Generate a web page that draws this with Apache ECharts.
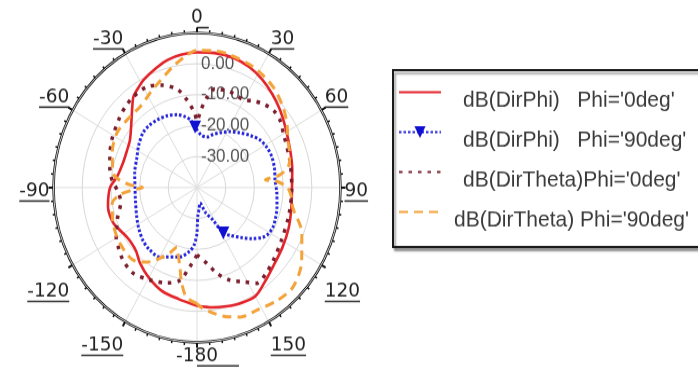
<!DOCTYPE html>
<html>
<head>
<meta charset="utf-8">
<script src="https://cdn.jsdelivr.net/npm/echarts@6/dist/echarts.min.js"></script>
<style>
  html, body { margin: 0; padding: 0; background: #fff; overflow: hidden; }
  #wrap { width: 698px; height: 385px; overflow: hidden; }
  /* the polar pattern is drawn a little taller than wide */
  #chart { width: 698px; height: 357px; transform: scaleY(1.0784); transform-origin: 0 0; }
</style>
</head>
<body>
<div id="wrap"><div id="chart"></div></div>
<script>
// Far-field directivity cuts, theta in degrees, values in dB
const seriesNames = [
  "dB(DirPhi)   Phi='0deg'",
  "dB(DirPhi)   Phi='90deg'",
  "dB(DirTheta)Phi='0deg'",
  "dB(DirTheta) Phi='90deg'"
];

const phi0Angles = [-180,-170,-160,-150,-141,-134,-128,-123,-117,-111,-101,-90,-83,-73,-65,-57,-50,-45,-40,-37,-32,-28,-20,-14,-7,0,8,17,25,33,41,49,58,70,80,90,101,112,123,134,142,150,158,165,172,180];
const dirPhi0 = [-1.8,-3.4,-4.4,-6.4,-8.5,-10.5,-11.0,-10.8,-9.8,-8.6,-8.4,-9.7,-11.9,-13.0,-12.9,-12.1,-10.0,-7.8,-5.0,-3.2,-1.7,-0.5,1.2,2.5,3.3,3.7,3.9,3.8,3.0,1.7,0.0,-1.7,-3.6,-5.4,-6.3,-6.9,-6.5,-5.5,-4.5,-3.2,-1.5,0.6,0.3,-0.3,-0.9,-1.8];

const phi90Angles = [-180,-177,-173,-165,-150,-140,-132,-123,-114,-100,-90,-78,-65,-56,-47,-40,-32,-24,-16,-10,-6,-2,5,12,18,24,32,40,48,55,62,69,77,85,94,103,110,116,121,125,131,137,143,148,152,160,168,174,178,180];
const dirPhi90 = [-25.0,-21.5,-19.3,-16.8,-14.1,-14.0,-14.6,-15.8,-17.0,-18.2,-18.4,-17.8,-16.9,-15.5,-14.2,-13.9,-14.1,-14.6,-15.5,-16.8,-18.0,-20.4,-23.0,-23.3,-22.0,-20.6,-18.7,-16.9,-14.9,-13.2,-12.4,-12.1,-12.3,-12.7,-12.1,-11.4,-10.9,-10.6,-11.0,-12.0,-14.8,-18.0,-20.6,-22.7,-28.0,-31.5,-34.9,-33.0,-31.0,-25.0];
const phi90MarkerAngles = [-2, 148];

const theta0Angles = [-180,-176,-173,-169,-161,-151,-141,-132,-125,-120,-110,-100,-93,-86,-80,-74,-63,-50,-43,-37,-28,-20,-12,-7,-2,0,3,7,11,20,30,35,41,47,53,60,75,90,105,120,131,139,146,152,159,166,172,180];
const dirTheta0 = [-18.2,-15.5,-13.1,-9.5,-7.4,-5.9,-4.5,-5.2,-6.5,-7.5,-10.5,-13.0,-12.5,-10.5,-9.2,-8.4,-6.6,-4.8,-3.8,-3.2,-3.1,-4.8,-7.7,-11.5,-15.9,-18.5,-15.0,-10.5,-7.6,-7.0,-7.3,-5.8,-4.4,-3.5,-3.8,-5.2,-6.5,-7.0,-6.8,-6.0,-4.6,-3.3,-2.7,-5.5,-7.9,-11.5,-15.3,-18.2];

const theta90Angles = [-180,-174,-170,-167,-163,-160,-156,-152,-144,-136,-124,-111,-100,-95,-92,-90,-88,-85,-81,-69,-58,-46,-37,-28,-22,-12,-5,0,8,15,27,39,49,57,64,72,78,82,84,86,90,95,101,112,123,134,143,152,160,166,172,178,180];
const dirTheta90 = [-2.5,-4.4,-9.0,-13.6,-17.5,-19.5,-17.0,-14.6,-10.2,-7.6,-7.7,-8.6,-10.0,-13.0,-17.5,-21.0,-17.0,-13.0,-10.4,-8.4,-7.0,-7.3,-7.2,-5.3,-3.7,0.0,2.8,4.3,4.6,4.4,3.6,2.0,-0.3,-2.6,-4.8,-6.0,-7.5,-11.0,-16.0,-12.0,-8.5,-7.0,-6.0,-0.6,3.5,6.4,5.9,4.8,4.5,3.0,1.0,-1.3,-2.5];

// radial scale (dB) and labelled rings
const radiusMin = -40, radiusMax = 10, radiusStep = 10;
const radiusLabelValues = [-30, -20, -10, 0];
const angleStep = 30;

// theta runs -180..180; the angle axis runs 0..360 clockwise from the top
const toAxisAngle = a => (a < 0 ? a + 360 : a);
const toPairs = (angles, values) => angles.map((a, i) => [values[i], toAxisAngle(a)]);

const phi90Data = phi90Angles.map((a, i) => {
  const marked = phi90MarkerAngles.indexOf(a) >= 0;
  return { value: [dirPhi90[i], toAxisAngle(a)], symbol: marked ? 'triangle' : 'none' };
});

// extra room above some angle labels so they sit a little further out
const labelSpacer = { '90': 's8', '-90': 's8', '120': 's14', '-120': 's14', '150': 's10', '-150': 's10' };

const chart = echarts.init(document.getElementById('chart'), null, { renderer: 'canvas' });

const labelFont = "'Liberation Sans', Arial, sans-serif";
const tickFont = "'DejaVu Sans', 'Liberation Sans', sans-serif";

chart.setOption({
  animation: false,
  backgroundColor: '#ffffff',
  polar: { center: [197, 173.9], radius: 143.5 },
  angleAxis: {
    type: 'value',
    min: 0,
    max: 360,
    interval: angleStep,
    startAngle: 90,
    clockwise: true,
    axisLine: { show: true, lineStyle: { color: '#111', width: 2.5 } },
    axisTick: { show: true, length: 5, lineStyle: { color: '#111', width: 2 } },
    minorTick: { show: true, splitNumber: 6, length: 3, lineStyle: { color: '#111', width: 1.5 } },
    splitLine: { show: true, lineStyle: { color: '#dedede', width: 1 } },
    axisLabel: {
      margin: 4,
      formatter: v => {
        if (v >= 360) return '';
        const t = String(v >= 180 ? v - 360 : v);
        const sp = labelSpacer[t];
        return (sp ? '{' + sp + '|}\n' : '') + '{n|' + t + '}\n{u|}';
      },
      rich: {
        n: { fontFamily: tickFont, fontSize: 18.5, color: '#222', lineHeight: 17, align: 'center' },
        u: { width: '100%', height: 1.6, backgroundColor: '#333' },
        s8: { height: 8, lineHeight: 8, fontSize: 1 },
        s10: { height: 10, lineHeight: 10, fontSize: 1 },
        s14: { height: 14, lineHeight: 14, fontSize: 1 }
      }
    }
  },
  radiusAxis: {
    type: 'value',
    min: radiusMin,
    max: radiusMax,
    interval: radiusStep,
    axisLine: { show: false },
    axisTick: { show: false },
    splitLine: { show: true, lineStyle: { color: '#d8d8d8', width: 1 } },
    axisLabel: {
      margin: -4,
      align: 'left',
      verticalAlign: 'middle',
      padding: [0, 0, 8, 0],
      fontFamily: labelFont,
      fontSize: 17,
      color: '#555',
      formatter: v => (radiusLabelValues.indexOf(v) >= 0 ? v.toFixed(2) : '')
    },
    z: 1
  },
  legend: {
    orient: 'vertical',
    left: 393,
    top: 65,
    padding: [2, 40, 14, 5],
    itemWidth: 42,
    itemHeight: 14,
    itemGap: 0,
    backgroundColor: '#fff',
    borderColor: '#1a1a1a',
    borderWidth: 2,
    shadowColor: 'rgba(0,0,0,0.35)',
    shadowBlur: 2,
    shadowOffsetX: 2,
    shadowOffsetY: 3,
    data: [
      { name: seriesNames[0], itemStyle: { opacity: 0 } },
      { name: seriesNames[1] },
      { name: seriesNames[2], itemStyle: { opacity: 0 } },
      { name: seriesNames[3], itemStyle: { opacity: 0 } }
    ],
    formatter: name => (name === seriesNames[3] ? '{w|' + name + '}' : '{t|' + name + '}'),
    textStyle: {
      rich: {
        t: { fontFamily: labelFont, fontSize: 21, color: '#3a3a3a', lineHeight: 22, padding: [16, 0, 0, 17] },
        w: { fontFamily: labelFont, fontSize: 21, color: '#3a3a3a', lineHeight: 22, padding: [16, 0, 0, 8] }
      }
    }
  },
  series: [
    {
      name: seriesNames[0], type: 'line', coordinateSystem: 'polar',
      data: toPairs(phi0Angles, dirPhi0),
      symbol: 'none', smooth: 0.3,
      lineStyle: { color: '#e3242b', width: 2.6 },
      itemStyle: { color: '#e3242b' }
    },
    {
      name: seriesNames[1], type: 'line', coordinateSystem: 'polar',
      data: phi90Data,
      symbol: 'triangle', symbolSize: 12, symbolRotate: 180, showSymbol: true, showAllSymbol: true,
      smooth: 0.3,
      lineStyle: { color: '#2424dc', width: 3, type: [2.5, 2] },
      itemStyle: { color: '#1010d0' }
    },
    {
      name: seriesNames[2], type: 'line', coordinateSystem: 'polar',
      data: toPairs(theta0Angles, dirTheta0),
      symbol: 'none', smooth: 0.3,
      lineStyle: { color: '#7b1f2f', width: 3.5, type: [3.5, 6] },
      itemStyle: { color: '#7b1f2f' }
    },
    {
      name: seriesNames[3], type: 'line', coordinateSystem: 'polar',
      data: toPairs(theta90Angles, dirTheta90),
      symbol: 'none', smooth: 0.3,
      lineStyle: { color: '#f3a33a', width: 3, type: [9, 6] },
      itemStyle: { color: '#f3a33a' }
    }
  ]
});
</script>
</body>
</html>
